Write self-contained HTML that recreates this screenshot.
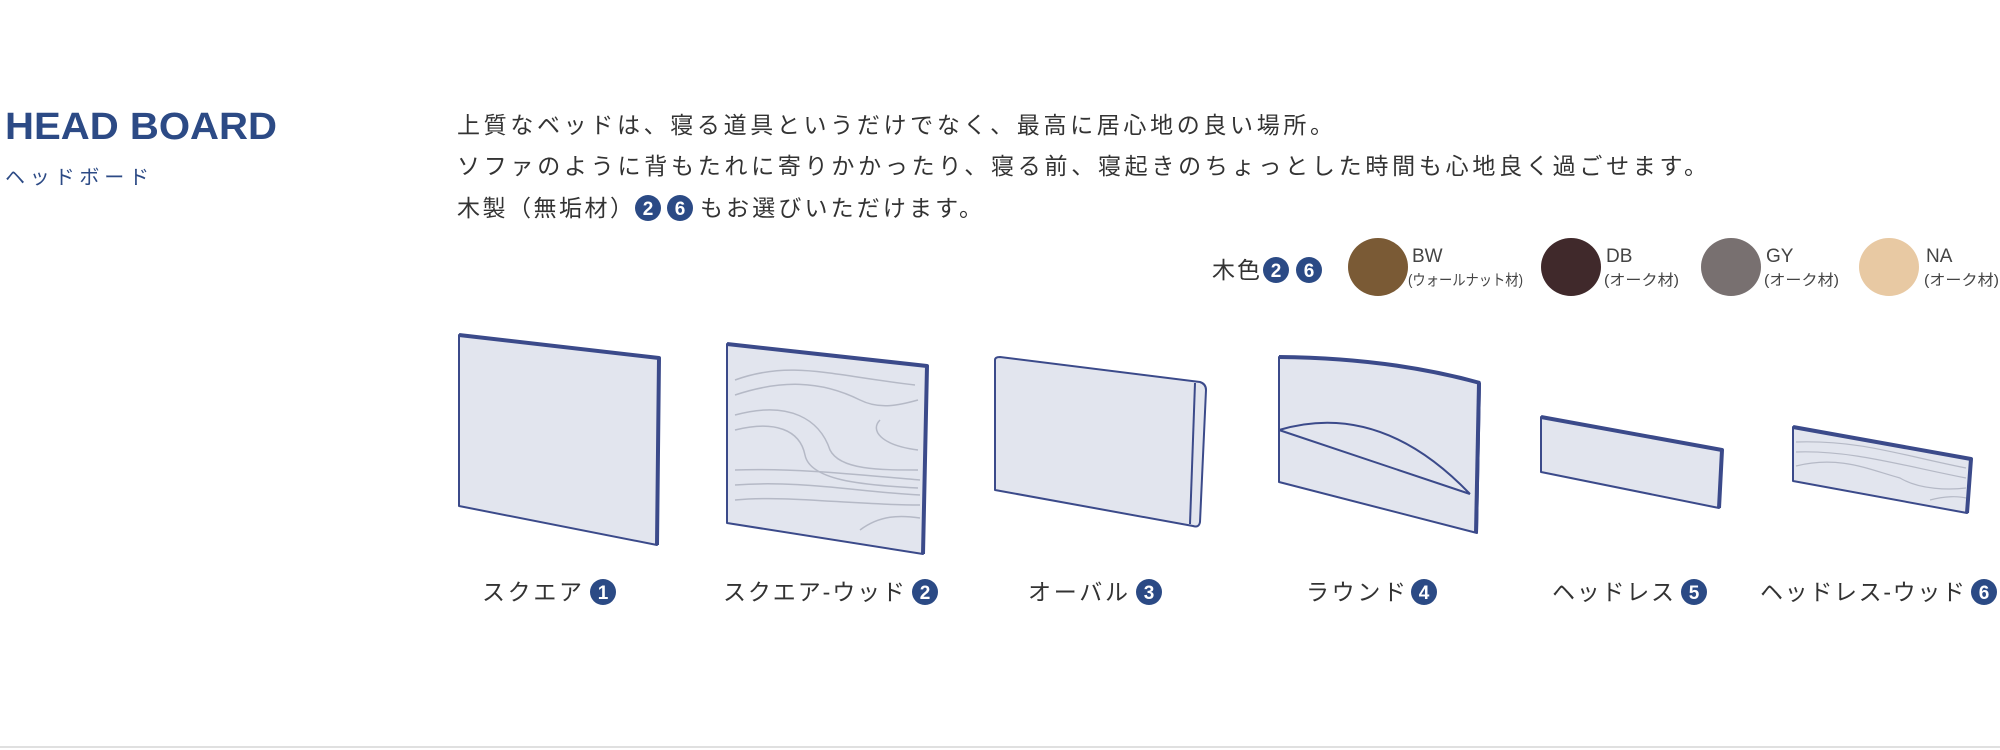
<!DOCTYPE html>
<html><head><meta charset="utf-8"><style>
html,body{margin:0;padding:0;background:#fff;}
svg{display:block;}
text{font-family:"Liberation Sans","Noto Sans CJK JP",sans-serif;}
</style></head><body>
<svg width="2000" height="750" viewBox="0 0 2000 750" xmlns="http://www.w3.org/2000/svg">
<defs>
<g id="n2"><circle r="13" fill="#2b4a85"/><text y="7" text-anchor="middle" font-size="19" font-weight="bold" fill="#fff">2</text></g>
<g id="n6"><circle r="13" fill="#2b4a85"/><text y="7" text-anchor="middle" font-size="19" font-weight="bold" fill="#fff">6</text></g>
</defs>
<text x="5" y="139" font-size="38" font-weight="bold" fill="#2c4a85" textLength="272" lengthAdjust="spacingAndGlyphs">HEAD BOARD</text>
<text x="5" y="184" font-size="20" fill="#2c4a85" textLength="144">ヘッドボード</text>

<g font-size="23" fill="#333">
<text x="457" y="133" textLength="876">上質なベッドは、寝る道具というだけでなく、最高に居心地の良い場所。</text>
<text x="457" y="174" textLength="1250">ソファのように背もたれに寄りかかったり、寝る前、寝起きのちょっとした時間も心地良く過ごせます。</text>
<text x="457" y="216" textLength="176">木製（無垢材）</text>
<use href="#n2" x="648" y="208"/><use href="#n6" x="680" y="208"/>
<text x="700" y="216" textLength="282">もお選びいただけます。</text>
<text x="1212" y="278" textLength="48">木色</text>
</g>
<use href="#n2" x="1276" y="270"/><use href="#n6" x="1309" y="270"/>

<ellipse cx="1378" cy="267" rx="30" ry="29" fill="#7a5a35"/>
<ellipse cx="1571" cy="267" rx="30" ry="29" fill="#40292b"/>
<ellipse cx="1731" cy="267" rx="30" ry="29" fill="#787070"/>
<ellipse cx="1889" cy="267" rx="30" ry="29" fill="#e8c9a3"/>
<g fill="#444">
<text x="1412" y="262" font-size="19">BW</text><text x="1408" y="285" font-size="15" textLength="115" lengthAdjust="spacingAndGlyphs">(ウォールナット材)</text>
<text x="1606" y="262" font-size="19">DB</text><text x="1604" y="285" font-size="15" textLength="75" lengthAdjust="spacingAndGlyphs">(オーク材)</text>
<text x="1766" y="262" font-size="19">GY</text><text x="1764" y="285" font-size="15" textLength="75" lengthAdjust="spacingAndGlyphs">(オーク材)</text>
<text x="1926" y="262" font-size="19">NA</text><text x="1924" y="285" font-size="15" textLength="75" lengthAdjust="spacingAndGlyphs">(オーク材)</text>
</g>

<g fill="#e2e5ee" stroke="#3b4a8a" stroke-width="2" stroke-linejoin="round">
<!-- board 1 -->
<polygon points="459,335 659,358 657,545 459,506"/>
<path d="M459,335 L659,358 L657,545" fill="none" stroke-width="4"/>
<!-- board 2 -->
<polygon points="727,344 927,366 923,554 727,523"/>
<g fill="none" stroke="#b5b9c6" stroke-width="1.5">
<path d="M735,380 C790,360 830,375 915,385"/><path d="M735,395 C780,380 820,380 860,400 C880,410 900,405 918,400"/>
<path d="M735,415 C790,400 820,420 830,450 C840,470 880,470 918,470"/><path d="M735,430 C775,420 800,430 805,455 C810,480 860,485 918,488"/>
<path d="M880,420 C870,430 880,445 918,450"/><path d="M735,470 C800,468 860,475 920,480"/>
<path d="M735,485 C800,480 860,492 920,495"/><path d="M735,500 C790,495 850,505 920,505"/>
<path d="M860,530 C880,515 900,515 920,518"/>
</g>
<path d="M727,344 L927,366 L923,554" fill="none" stroke-width="4"/>
<!-- board 3 -->
<path d="M995,360 Q995,357 1000,357 L1200,382 Q1206,384 1206,390 L1200,522 Q1199,528 1193,526 L995,490 Z"/>
<path d="M1195,383 L1190,524" fill="none" stroke-width="2"/>
<!-- board 4 -->
<path d="M1279,357 Q1390,358 1480,383 L1477,533 L1279,482 Z"/>
<path d="M1279,357 Q1390,358 1480,383" fill="none" stroke-width="4"/>
<path d="M1479,383 L1476,533" fill="none" stroke-width="4"/>
<path d="M1279,430 L1470,494 M1279,430 Q1380,400 1470,494" fill="none"/>
<!-- board 5 -->
<polygon points="1541,417 1722,450 1719,508 1541,472"/>
<path d="M1541,417 L1722,450 L1719,508" fill="none" stroke-width="4"/>
<!-- board 6 -->
<polygon points="1793,427 1971,459 1967,513 1793,481"/>
<g fill="none" stroke="#b5b9c6" stroke-width="1.2">
<path d="M1796,442 C1860,440 1900,455 1966,468"/><path d="M1796,452 C1850,450 1900,465 1966,478"/>
<path d="M1796,466 C1840,455 1870,470 1900,478 C1920,490 1950,490 1966,488"/><path d="M1930,500 C1945,496 1958,496 1966,498"/>
</g>
<path d="M1793,427 L1971,459 L1967,513" fill="none" stroke-width="4"/>
</g>

<g font-size="23" fill="#333">
<text x="482" y="600" textLength="100">スクエア</text>
<text x="723" y="600" textLength="182">スクエア-ウッド</text>
<text x="1028" y="600" textLength="100">オーバル</text>
<text x="1306" y="600" textLength="100">ラウンド</text>
<text x="1552" y="600" textLength="122">ヘッドレス</text>
<text x="1760" y="600" textLength="205">ヘッドレス-ウッド</text>
</g>
<g font-size="19" font-weight="bold" fill="#fff" text-anchor="middle">
<circle cx="603" cy="592" r="13" fill="#2b4a85"/><text x="603" y="599">1</text>
<circle cx="925" cy="592" r="13" fill="#2b4a85"/><text x="925" y="599">2</text>
<circle cx="1149" cy="592" r="13" fill="#2b4a85"/><text x="1149" y="599">3</text>
<circle cx="1424" cy="592" r="13" fill="#2b4a85"/><text x="1424" y="599">4</text>
<circle cx="1694" cy="592" r="13" fill="#2b4a85"/><text x="1694" y="599">5</text>
<circle cx="1984" cy="592" r="13" fill="#2b4a85"/><text x="1984" y="599">6</text>
</g>
<rect x="0" y="746" width="2000" height="2" fill="#e0e0e0"/>
</svg>
</body></html>
